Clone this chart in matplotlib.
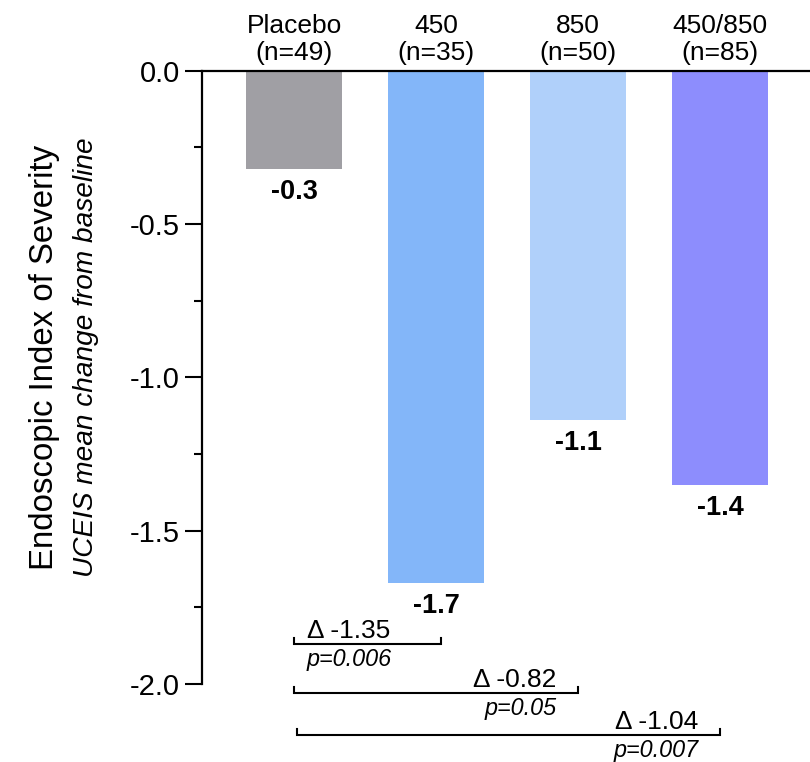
import matplotlib
matplotlib.use("Agg")
import matplotlib.pyplot as plt

plt.rcParams["font.family"] = ["Liberation Sans", "DejaVu Sans"]

# Data
groups = ["Placebo", "450", "850", "450/850"]
n_sizes = [49, 35, 50, 85]
mean_change = [-0.32, -1.67, -1.14, -1.35]
bar_colors = ["#A09FA4", "#83B6F9", "#B0D0FA", "#8D8DFD"]

# Pairwise comparisons vs placebo: (treatment index, delta, p-value text)
comparisons = [
    (1, -1.35, "p=0.006"),
    (2, -0.82, "p=0.05"),
    (3, -1.04, "p=0.007"),
]

W, H = 810, 762
fig = plt.figure(figsize=(W / 100, H / 100), dpi=100)
ax = fig.add_axes([202 / W, (H - 684) / H, (W - 202) / W, (684 - 70.5) / H])

x = list(range(len(groups)))
ax.bar(x, mean_change, width=0.67, color=bar_colors, zorder=2)
ax.set_xlim(-0.648, 3.634)
ax.set_ylim(-2.0, 0.0)

for s in ("right", "bottom"):
    ax.spines[s].set_visible(False)
for s in ("left", "top"):
    ax.spines[s].set_linewidth(1.6)
    ax.spines[s].set_color("black")

ax.set_yticks([0.0, -0.5, -1.0, -1.5, -2.0])
ax.set_yticklabels([f"{v:.1f}" for v in [0.0, -0.5, -1.0, -1.5, -2.0]], fontsize=21)
ax.set_yticks([-0.25, -0.75, -1.25, -1.75], minor=True)
ax.tick_params(axis="y", which="major", length=12, width=1.5, pad=4)
ax.tick_params(axis="y", which="minor", length=6, width=1.5)

ax.xaxis.set_ticks_position("top")
ax.set_xticks(x)
ax.set_xticklabels([f"{g}\n(n={n})" for g, n in zip(groups, n_sizes)],
                   fontsize=19, linespacing=1.13)
ax.tick_params(axis="x", length=0, pad=4)

# Value labels under each bar
for xi, v in zip(x, mean_change):
    ax.annotate(f"{v:.1f}", (xi, v), xytext=(0, -10), textcoords="offset pixels",
                ha="center", va="top", fontsize=19.5, fontweight="bold")

# Comparison brackets below the axis
bracket_y = [-1.87, -2.029, -2.166]
bracket_left = [0.0, 0.0, 0.02]
tick_h = 0.02
for (j, d, ptxt), by, bl in zip(comparisons, bracket_y, bracket_left):
    br = j + (0.035 if j == 1 else 0.0)
    ax.plot([bl, bl, br, br], [by + tick_h, by, by, by + tick_h], color="black",
            lw=1.5, clip_on=False, solid_joinstyle="miter")
    dtxt = f"\u0394 {d:.2f}"
    if j == 1:
        tx, ha = bl + 0.09, "left"
    else:
        tx, ha = br - 0.15, "right"
    ax.text(tx, by + 0.004, dtxt, ha=ha, va="bottom", fontsize=19, clip_on=False)
    ax.text(tx, by - 0.014, ptxt, ha=ha, va="top", fontsize=16.8, style="italic",
            clip_on=False)

# Y-axis title in two lines
fig.text(45 / W, 1 - 357 / H, "Endoscopic Index of Severity", rotation=90,
         ha="center", va="center", fontsize=23.8)
fig.text(86 / W, 1 - 357 / H, "UCEIS mean change from baseline", rotation=90,
         ha="center", va="center", fontsize=20.2, style="italic")

fig.savefig("out.png", dpi=100)
